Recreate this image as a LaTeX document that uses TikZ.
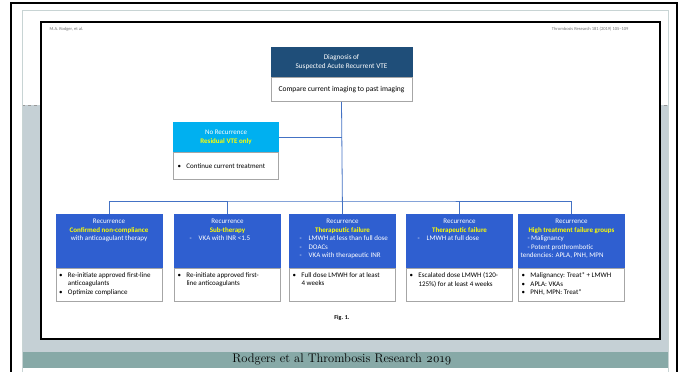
\documentclass[tikz,border=0pt]{standalone}
\usepackage{fontspec}
\setmainfont{Carlito}
\newfontfamily\capfont[Numbers=OldStyle]{Latin Modern Roman}
\usetikzlibrary{positioning}

\definecolor{diagblue}{HTML}{1F4E79}
\definecolor{norecblue}{HTML}{00B0F0}
\definecolor{recblue}{HTML}{2F5FD0}
\definecolor{hiyellow}{HTML}{FFFF00}
\definecolor{linkblue}{HTML}{4472C4}
\definecolor{slidegray}{HTML}{C5D0D5}
\definecolor{bandteal}{HTML}{87A9A7}
\definecolor{framegray}{HTML}{C8D4D4}

\newcommand{\yl}[1]{\textcolor{hiyellow}{\bfseries #1}}
\newcommand{\dl}[2]{\hspace*{#1pt}-\hspace{7pt}#2}
\newcommand{\hdtext}[2]{\parbox[c][44pt][t]{102pt}{\centering #1\par\raggedright #2}}
\newcommand{\bl}{\par\hangindent=9pt\hangafter=1\noindent\makebox[9pt][l]{\textbullet}}
\newcommand{\bdtext}[1]{\parbox[c][25pt][t]{100pt}{\raggedright #1}}

\tikzset{
  boxfont/.style={font=\fontsize{7}{8.5}\selectfont},
  diaghead/.style={boxfont, fill=diagblue, draw=diagblue, text=white, minimum width=141, minimum height=30, align=center, inner sep=0pt, anchor=north, font=\fontsize{7.2}{9}\selectfont},
  norechead/.style={boxfont, fill=norecblue, draw=norecblue, text=white, minimum width=105, minimum height=30, align=center, inner sep=0pt, anchor=north},
  rechead/.style={boxfont, fill=recblue, draw=recblue, text=white, minimum width=106, minimum height=54, inner sep=0pt, anchor=north},
  bodybox/.style={boxfont, fill=white, draw=black!35, minimum width=106, minimum height=33, inner sep=0pt},
  link/.style={draw=linkblue, line width=0.8pt}
}

\begin{document}
\begin{tikzpicture}[x=1pt,y=-1pt]
  \useasboundingbox (0,0) rectangle (683,372);
  \fill[white] (0,0) rectangle (683,372);
  % slide background
  \fill[slidegray] (22,105) rectangle (668,352);
  \draw[black!40, dashed, line width=0.4pt] (22,105) -- (668,105);
  \fill[bandteal] (22,352) rectangle (668,368);
  \draw[framegray, line width=0.8pt] (22,372) -- (22,10) -- (668,10) -- (668,372);
  \draw[line width=2.5pt] (11,372) -- (11,3) -- (677,3) -- (677,372);
  % figure page
  \draw[line width=2pt, fill=white] (41,22) rectangle (660,339);
  \node[anchor=west, text=black!55, font=\fontsize{4.5}{5}\selectfont] (runhead) at (46,29) {M.A. Rodger, et al.};
  \node[anchor=east, text=black!55, font=\fontsize{4.5}{5}\selectfont] (journal) at (632,29) {Thrombosis Research 181 (2019) 105--109};

  % top box
  \node[diaghead] (diag) at (341.5,47) {Diagnosis of\\Suspected Acute Recurrent VTE};
  \node[bodybox, minimum width=141, minimum height=24, below=0pt of diag, font=\fontsize{7.5}{9}\selectfont] (diagbody) {Compare current imaging to past imaging};

  % no recurrence
  \node[norechead] (norec) at (226,122) {No Recurrence\\\yl{Residual VTE only}};
  \node[bodybox, minimum width=105, minimum height=27, below=0pt of norec] (norecbody) {\parbox{97pt}{\raggedright\bl Continue current treatment}};

  % recurrence boxes
  \node[rechead] (rec1) at (109,214) {\hdtext{Recurrence\\\yl{Confirmed non-compliance}\\with anticoagulant therapy}{}};
  \node[rechead] (rec2) at (227.5,214) {\hdtext{Recurrence\\\yl{Sub-therapy}}{\dl{13}{VKA with INR <1.5}}};
  \node[rechead] (rec3) at (342.5,214) {\hdtext{Recurrence\\\yl{Therapeutic failure}}{\dl{8}{LMWH at less than full dose}\\\dl{8}{DOACs}\\\dl{8}{VKA with therapeutic INR}}};
  \node[rechead] (rec4) at (459.5,214) {\hdtext{Recurrence\\\yl{Therapeutic failure}}{\dl{9}{LMWH at full dose}}};
  \node[rechead] (rec5) at (571.5,214) {\hdtext{Recurrence\\\yl{High treatment failure groups}}{\hspace*{7pt}- Malignancy\\\hspace*{7pt}- Potent prothrombotic\\tendencies: APLA, PNH, MPN}};

  \node[bodybox, below=0pt of rec1] (rec1body) {\bdtext{\bl Re-initiate approved first-line\break anticoagulants\bl Optimize compliance}};
  \node[bodybox, below=0pt of rec2] (rec2body) {\bdtext{\bl Re-initiate approved first-\break line anticoagulants}};
  \node[bodybox, below=0pt of rec3] (rec3body) {\bdtext{\bl Full dose LMWH for at least\break 4 weeks}};
  \node[bodybox, below=0pt of rec4] (rec4body) {\bdtext{\bl Escalated dose LMWH (120-\break 125\%) for at least 4 weeks}};
  \node[bodybox, below=0pt of rec5] (rec5body) {\bdtext{\bl Malignancy: Treat* + LMWH\bl APLA: VKAs\bl PNH, MPN: Treat*}};

  % connectors
  \coordinate (bus) at (342.5,201);
  \draw[link] (diagbody.south) -- (rec3.north);
  \draw[link] (norec.east) -- (norec.east -| diagbody.south);
  \draw[link] (rec1.north) |- (bus) -| (rec5.north);
  \draw[link] (rec2.north) -- (rec2.north |- bus);
  \draw[link] (rec4.north) -- (rec4.north |- bus);

  \node[font=\bfseries\fontsize{6}{7}\selectfont] (fig) at (342,318) {Fig. 1.};
  \node[font=\capfont\fontsize{12.5}{14}\selectfont] (credit) at (342,360) {Rodgers et al Thrombosis Research 2019};
\end{tikzpicture}
\end{document}
